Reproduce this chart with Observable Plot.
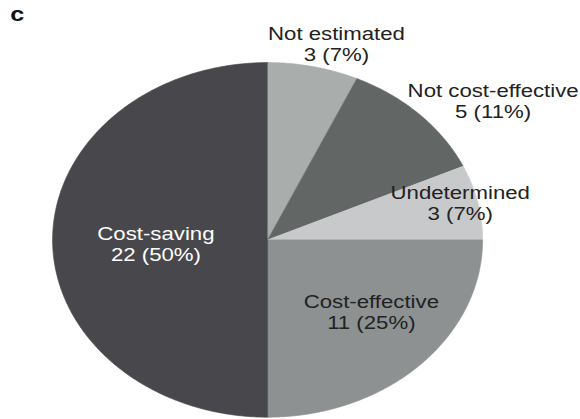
<!DOCTYPE html>
<html>
<head>
<meta charset="utf-8">
<script src="https://cdn.jsdelivr.net/npm/d3@7"></script>
<script src="https://cdn.jsdelivr.net/npm/@observablehq/plot@0.6"></script>
<style>
  html, body { margin: 0; padding: 0; background: #fff; overflow: hidden; }
  #chart { width: 580px; height: 419px; position: relative; }
  #chart svg { transform-origin: 0 0; display: block; }
</style>
</head>
<body>
<div id="chart"></div>
<script>
// ---- data ----
const categories = ["Not estimated", "Not cost-effective", "Undetermined", "Cost-effective", "Cost-saving"];
const counts = [3, 5, 3, 11, 22];
const percentLabels = ["7%", "11%", "7%", "25%", "50%"];
const sliceColors = ["#a9adac", "#626766", "#c8c9cb", "#8d9192", "#48474b"];
const panelLetter = "c";

// ---- layout (not data) ----
const STRETCH = 1.2;              // reference image is stretched horizontally
const W = 580 / STRETCH, H = 419;
const cx = 267 / STRETCH, cy = 239.4;
const rx = 215 / STRETCH, ry = 177.3;
// label placement: radial factor and angle shift (deg) per slice
const labelPlacement = [
  {r: 1.15, da: 3.9}, {r: 1.31, da: 8.2}, {r: 0.92, da: -0.8}, {r: 0.63, da: -5}, {r: 0.52, da: -2.6}
];

const arcs = d3.pie().sort(null).value(d => d)(counts);

const slicePts = [];
arcs.forEach((a, i) => {
  const name = categories[i];
  slicePts.push({name, x: cx, y: cy});
  const n = Math.max(2, Math.ceil((a.endAngle - a.startAngle) / (Math.PI / 360)));
  for (let k = 0; k <= n; k++) {
    const t = a.startAngle + (a.endAngle - a.startAngle) * k / n;
    slicePts.push({name, x: cx + rx * Math.sin(t), y: cy - ry * Math.cos(t)});
  }
});

const labels = arcs.map((a, i) => {
  const p = labelPlacement[i];
  const t = (a.startAngle + a.endAngle) / 2 + p.da * Math.PI / 180;
  return {
    name: categories[i],
    text: `${categories[i]}\n${counts[i]} (${percentLabels[i]})`,
    x: cx + rx * p.r * Math.sin(t),
    y: cy - ry * p.r * Math.cos(t),
    light: i === 4
  };
});

const font = "'Liberation Sans', Arial, Helvetica, sans-serif";

const chart = Plot.plot({
  width: W,
  height: H,
  margin: 0,
  style: {background: "#fff", fontFamily: font},
  x: {domain: [0, W], range: [0, W], axis: null},
  y: {domain: [0, H], range: [0, H], axis: null},
  color: {domain: categories, range: sliceColors},
  marks: [
    Plot.line(slicePts, {x: "x", y: "y", z: "name", fill: "name", stroke: "name", strokeWidth: 0.6, curve: "linear"}),
    Plot.text(labels.filter(d => !d.light), {x: "x", y: "y", text: "text", fill: "#222", fontSize: 18.5, lineHeight: 1.13, fontFamily: font}),
    Plot.text(labels.filter(d => d.light), {x: "x", y: "y", text: "text", fill: "#fff", fontSize: 18.5, lineHeight: 1.13, fontFamily: font}),
    Plot.text([panelLetter], {frameAnchor: "top-left", text: d => d, textAnchor: "start", lineAnchor: "top", dx: 8, dy: 6, fontSize: 21, fontWeight: "bold", fill: "#111", fontFamily: font})
  ]
});
chart.style.transform = `scaleX(${580 / W})`;
document.getElementById("chart").appendChild(chart);
</script>
</body>
</html>
